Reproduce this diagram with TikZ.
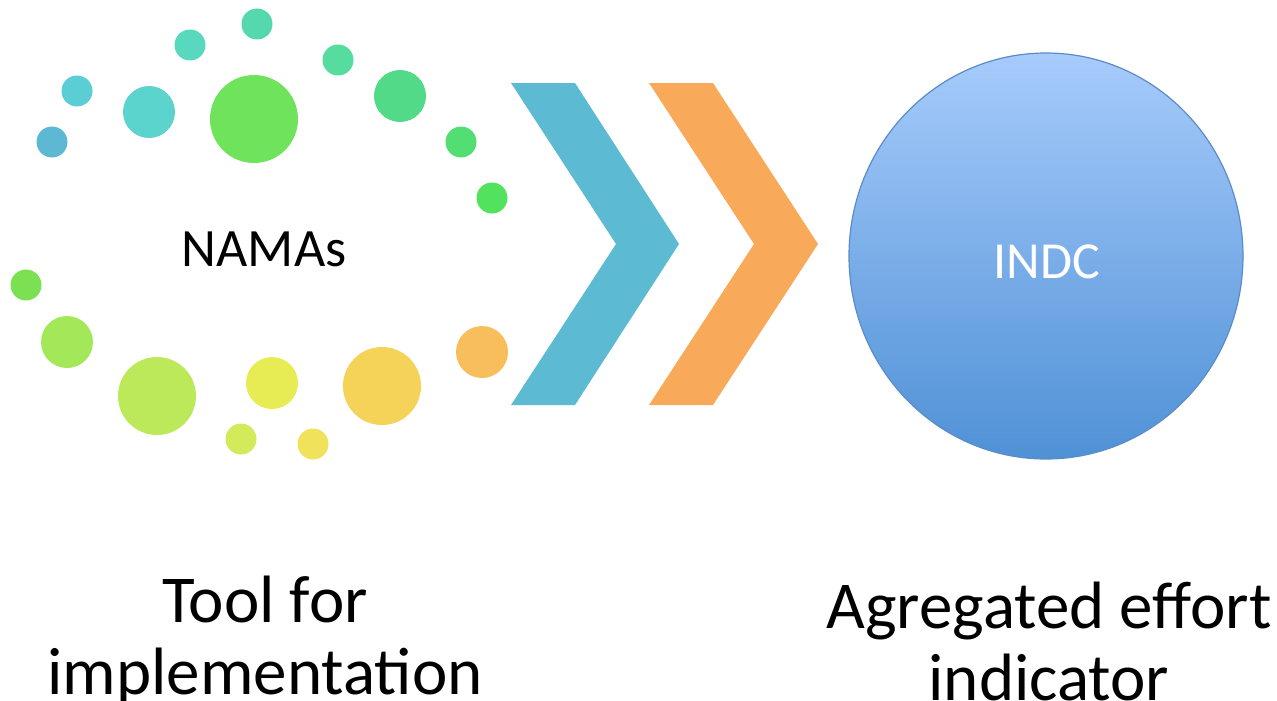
\documentclass[tikz,border=0pt]{standalone}
\usepackage{fontspec}
\setmainfont{Carlito}
\usepackage{tikz}
\usetikzlibrary{positioning, shapes.geometric}
\definecolor{dotA}{HTML}{55D8AE}
\definecolor{dotB}{HTML}{58D9BE}
\definecolor{dotC}{HTML}{55DC9E}
\definecolor{dotD}{HTML}{5ACED4}
\definecolor{dotE}{HTML}{5AD4CC}
\definecolor{dotF}{HTML}{6FE35B}
\definecolor{dotG}{HTML}{52DA88}
\definecolor{dotH}{HTML}{5DB8D3}
\definecolor{dotI}{HTML}{52DE72}
\definecolor{dotJ}{HTML}{52E25D}
\definecolor{dotK}{HTML}{7BE052}
\definecolor{dotL}{HTML}{A2E858}
\definecolor{dotM}{HTML}{BCE95A}
\definecolor{dotN}{HTML}{E7EC55}
\definecolor{dotO}{HTML}{F5D258}
\definecolor{dotP}{HTML}{F8BE5C}
\definecolor{dotQ}{HTML}{D3EA5A}
\definecolor{dotR}{HTML}{F0E25A}
\definecolor{chevBlue}{HTML}{5DBAD3}
\definecolor{chevOrange}{HTML}{F9A95A}
\definecolor{indcTop}{HTML}{A7CBFB}
\definecolor{indcBottom}{HTML}{4F91D6}
\definecolor{indcBorder}{HTML}{5A8CC8}
\tikzset{
    nama_dot/.style={
        circle,
        inner sep=0pt,
        draw=none
    },
    small_dot/.style={nama_dot, minimum size=31pt},
    mid_dot/.style={nama_dot, minimum size=52pt},
    big_dot/.style={nama_dot, minimum size=78pt},
    huge_dot/.style={nama_dot, minimum size=88pt},
    indc_node/.style={
        ellipse,
        draw=indcBorder,
        line width=1.2pt,
        top color=indcTop,
        bottom color=indcBottom,
        minimum width=394pt,
        minimum height=406pt
    },
    caption_text/.style={
        align=center,
        text=black,
        font=\fontsize{67}{72}\selectfont
    }
}

\begin{document}
\begin{tikzpicture}[x=1pt, y=-1pt]
    \useasboundingbox (0,0) rectangle (1277,701);

    % dots round the NAMAs label
    \node[small_dot, fill=dotA] (d1) at (257,24) {};
    \node[small_dot, fill=dotB] (d2) at (190,45) {};
    \node[small_dot, fill=dotC] (d3) at (338,60) {};
    \node[small_dot, fill=dotD] (d4) at (77,91) {};
    \node[mid_dot, fill=dotE] (d5) at (149,112) {};
    \node[huge_dot, fill=dotF] (d6) at (254,119) {};
    \node[mid_dot, fill=dotG] (d7) at (400,96) {};
    \node[small_dot, fill=dotH] (d8) at (52,142) {};
    \node[small_dot, fill=dotI] (d9) at (461,142) {};
    \node[small_dot, fill=dotJ] (d10) at (492,198) {};
    \node[small_dot, fill=dotK] (d11) at (26,285) {};
    \node[mid_dot, fill=dotL] (d12) at (67,342) {};
    \node[big_dot, fill=dotM] (d13) at (157,396) {};
    \node[mid_dot, fill=dotN] (d14) at (272,383) {};
    \node[big_dot, fill=dotO] (d15) at (382,386) {};
    \node[mid_dot, fill=dotP] (d16) at (482,352) {};
    \node[small_dot, fill=dotQ] (d17) at (241,439) {};
    \node[small_dot, fill=dotR] (d18) at (313,444) {};

    \node[font=\fontsize{54}{60}\selectfont] (namas) at (264,249) {NAMAs};

    % chevrons
    \fill[chevBlue] (511,83) -- (575,83) -- (679,244) -- (575,405)
        -- (511,405) -- (616,244) -- cycle;
    \fill[chevOrange] (649,83) -- (713,83) -- (818,244) -- (713,405)
        -- (649,405) -- (754,244) -- cycle;

    \node[indc_node] (indc) at (1046,256) {};
    \node[text=white, font=\fontsize{52}{58}\selectfont] (indc_label)
        at (1047,262) {INDC};

    \node[caption_text] (tool) at (265,641) {Tool for\\implementation};
    \node[caption_text] (effort) at (1049,641) {Agregated effort\\indicator};
\end{tikzpicture}
\end{document}
